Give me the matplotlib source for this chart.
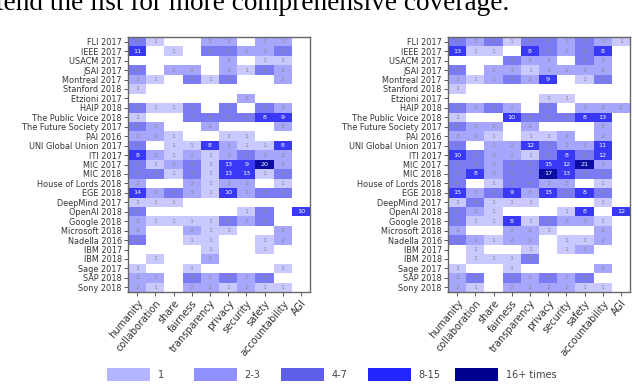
import numpy as np
import matplotlib
matplotlib.use("Agg")
import matplotlib.pyplot as plt
from matplotlib.colors import ListedColormap, BoundaryNorm
from matplotlib.patches import Patch

#-------------------#
# Data
#-------------------#
documents = ["FLI 2017", "IEEE 2017", "USACM 2017", "JSAI 2017", "Montreal 2017",
             "Stanford 2018", "Etzioni 2017", "HAIP 2018", "The Public Voice 2018",
             "The Future Society 2017", "PAI 2016", "UNI Global Union 2017", "ITI 2017",
             "MIC 2017", "MIC 2018", "House of Lords 2018", "EGE 2018", "DeepMind 2017",
             "OpenAI 2018", "Google 2018", "Microsoft 2018", "Nadella 2016", "IBM 2017",
             "IBM 2018", "Sage 2017", "SAP 2018", "Sony 2018"]

topics = ["humanity", "collaboration", "share", "fairness", "transparency",
          "privacy", "security", "safety", "accountability", "AGI"]

counts_left = [
    [5, 1, 0, 0, 3, 3, 0, 2, 3, 0],
    [11, 0, 1, 0, 5, 4, 2, 3, 6, 0],
    [0, 0, 0, 0, 0, 2, 0, 1, 1, 0],
    [4, 0, 2, 2, 0, 3, 1, 5, 2, 0],
    [3, 1, 0, 4, 1, 6, 0, 0, 2, 0],
    [1, 0, 0, 0, 0, 0, 0, 0, 0, 0],
    [0, 0, 0, 0, 0, 0, 2, 0, 0, 0],
    [5, 1, 1, 5, 0, 5, 0, 5, 3, 0],
    [1, 0, 0, 7, 4, 4, 4, 8, 9, 0],
    [4, 2, 0, 0, 2, 0, 0, 0, 2, 0],
    [2, 2, 1, 0, 0, 1, 1, 0, 0, 0],
    [5, 0, 1, 1, 8, 3, 1, 1, 8, 0],
    [8, 2, 1, 2, 1, 3, 4, 3, 2, 0],
    [6, 1, 2, 4, 1, 13, 9, 20, 2, 0],
    [5, 4, 1, 4, 1, 13, 13, 1, 4, 0],
    [2, 0, 0, 3, 1, 3, 2, 0, 1, 0],
    [14, 2, 4, 3, 1, 10, 2, 4, 4, 0],
    [1, 1, 1, 0, 0, 0, 0, 0, 0, 0],
    [4, 0, 0, 0, 0, 0, 1, 4, 0, 10],
    [2, 1, 1, 1, 1, 4, 3, 5, 0, 0],
    [2, 0, 0, 2, 1, 1, 0, 0, 2, 0],
    [4, 0, 0, 1, 1, 0, 0, 1, 2, 0],
    [0, 0, 0, 0, 1, 0, 0, 1, 0, 0],
    [0, 1, 0, 0, 2, 0, 0, 0, 0, 0],
    [1, 0, 0, 1, 0, 0, 0, 0, 1, 0],
    [2, 2, 0, 4, 2, 5, 2, 4, 0, 0],
    [2, 1, 0, 2, 2, 1, 2, 1, 1, 0],
]

counts_right = [
    [7, 3, 4, 1, 4, 4, 3, 5, 3, 1],
    [13, 1, 1, 0, 8, 5, 3, 6, 8, 0],
    [0, 0, 0, 4, 3, 2, 0, 5, 3, 0],
    [5, 0, 2, 3, 1, 3, 2, 3, 3, 0],
    [3, 1, 3, 4, 2, 9, 0, 1, 5, 0],
    [1, 0, 0, 0, 0, 0, 0, 0, 0, 0],
    [0, 0, 0, 0, 0, 1, 1, 0, 0, 0],
    [5, 3, 4, 2, 0, 5, 0, 3, 2, 2],
    [1, 0, 0, 10, 4, 4, 5, 8, 13, 0],
    [4, 2, 2, 0, 2, 0, 0, 0, 2, 0],
    [3, 2, 1, 0, 1, 1, 2, 0, 2, 0],
    [7, 0, 2, 2, 12, 5, 2, 2, 11, 0],
    [10, 5, 3, 2, 1, 4, 8, 6, 12, 0],
    [6, 6, 3, 4, 4, 15, 12, 21, 3, 0],
    [5, 8, 3, 5, 7, 17, 13, 4, 5, 0],
    [4, 0, 1, 4, 4, 3, 3, 0, 1, 0],
    [15, 3, 5, 9, 3, 15, 5, 8, 6, 0],
    [1, 4, 1, 1, 1, 0, 0, 0, 1, 0],
    [4, 2, 1, 0, 0, 0, 1, 8, 0, 12],
    [4, 1, 1, 8, 1, 5, 3, 3, 1, 0],
    [2, 0, 0, 2, 2, 1, 0, 0, 2, 0],
    [5, 2, 1, 2, 2, 0, 1, 1, 2, 0],
    [0, 1, 0, 0, 1, 0, 1, 2, 0, 0],
    [0, 1, 1, 1, 4, 0, 0, 0, 0, 0],
    [1, 0, 0, 1, 0, 0, 0, 0, 2, 0],
    [2, 4, 0, 5, 3, 4, 2, 4, 0, 0],
    [2, 1, 0, 2, 2, 2, 2, 1, 1, 0],
]

bin_labels = ["1", "2-3", "4-7", "8-15", "16+ times"]
bin_edges = [0, 0.5, 1.5, 3.5, 7.5, 15.5, 1000]
# heatmap cells are drawn a bit washed out, legend swatches are stronger
cell_colors = ["#c9c9ff", "#a6a6fd", "#7a7af3", "#3838f6", "#0c0ca2"]
legend_colors = ["#b4b4ff", "#9090ff", "#5f5fea", "#2424fc", "#00008e"]

caption = "tend the list for more comprehensive coverage."

#-------------------#
# Figure
#-------------------#
cmap = ListedColormap(["white"] + cell_colors)
norm = BoundaryNorm(bin_edges, cmap.N)

fig = plt.figure(figsize=(6.38, 3.90), dpi=100)

def draw_heatmap(ax, counts):
	m = np.array(counts)
	ax.imshow(m, cmap=cmap, norm=norm, aspect="auto", interpolation="nearest")
	for i in range(m.shape[0]):
		for j in range(m.shape[1]):
			if m[i, j] > 0:
				c = "white" if m[i, j] >= 8 else "#8a8a8a"
				ax.text(j, i, str(m[i, j]), ha="center", va="center",
				        fontsize=4.6, color=c)
	ax.set_xticks(range(len(topics)))
	ax.set_xticklabels(topics, rotation=50, ha="right", rotation_mode="anchor",
	                   fontsize=7, color="#333333")
	ax.set_yticks(range(len(documents)))
	ax.set_yticklabels(documents, fontsize=5.9, color="#333333")
	ax.tick_params(length=3, width=0.7, color="#555555", pad=1.5)
	for s in ax.spines.values():
		s.set_color("#666666")
		s.set_linewidth(1.0)

ax1 = fig.add_axes([128/638, 1 - 292/390, 182/638, 255/390])
ax2 = fig.add_axes([448/638, 1 - 292/390, 182/638, 255/390])
draw_heatmap(ax1, counts_left)
draw_heatmap(ax2, counts_right)

# one legend per bin so the swatches sit on an even pitch
for k in range(len(bin_labels)):
	x0 = (107 + 87 * k) / 638
	fig.legend([Patch(facecolor=legend_colors[k], edgecolor="none")], [bin_labels[k]],
	           loc="center left", bbox_to_anchor=(x0, 1 - 374.5/390), borderaxespad=0,
	           borderpad=0, frameon=False, fontsize=7, handlelength=4.4, handleheight=1.75,
	           handletextpad=0.8, labelcolor="#444444")

fig.text(-0.006, 1 - 10/390, caption, family="Liberation Serif", fontsize=19.6,
         va="baseline", ha="left", color="black")

fig.savefig("out.png", dpi=100)
